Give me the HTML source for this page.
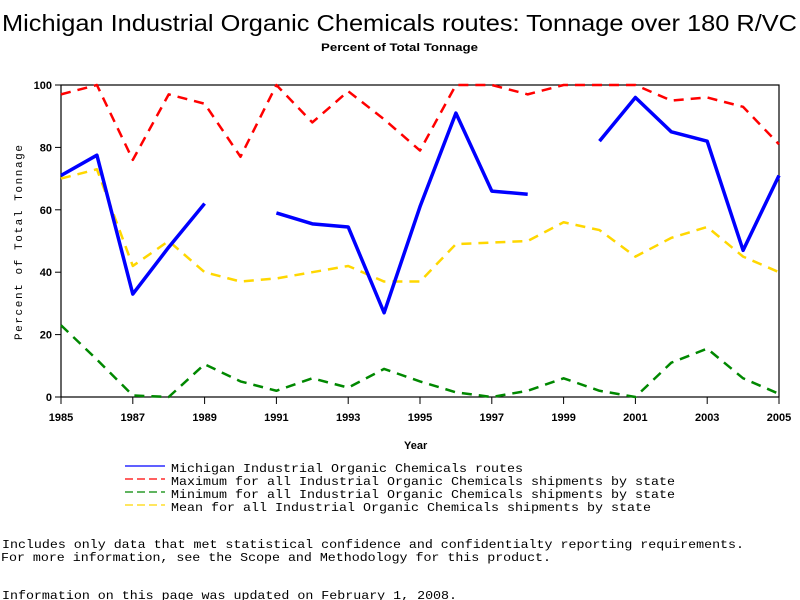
<!DOCTYPE html>
<html><head><meta charset="utf-8"><style>body{margin:0;background:#fff}svg{display:block}</style></head>
<body>
<svg id="chart" width="800" height="600" font-family="Liberation Sans, sans-serif">
<text x="2" y="31" font-size="23" textLength="795" lengthAdjust="spacingAndGlyphs">Michigan Industrial Organic Chemicals routes: Tonnage over 180 R/VC</text>
<text x="321" y="51" font-size="11" font-weight="bold" textLength="157" lengthAdjust="spacingAndGlyphs">Percent of Total Tonnage</text>
<rect x="61" y="85" width="718" height="312" fill="none" stroke="#000" stroke-width="1.2"/>
<g id="axes"></g>
<g id="series"></g>
<text x="404" y="449" font-size="11" font-weight="bold">Year</text>
<text transform="translate(22,340) rotate(-90)" font-size="11" font-family="Liberation Mono, monospace" textLength="195" lengthAdjust="spacing">Percent of Total Tonnage</text>
<g font-family="Liberation Mono, monospace" font-size="12">
<g><line x1="125" y1="466" x2="165" y2="466" stroke="#00f" stroke-width="1.2"/><text x="171" y="472" textLength="352" lengthAdjust="spacingAndGlyphs">Michigan Industrial Organic Chemicals routes</text></g>
<g><line x1="125" y1="479" x2="165" y2="479" stroke="#f00" stroke-width="1.2" stroke-dasharray="8,4"/><text x="171" y="485" textLength="504" lengthAdjust="spacingAndGlyphs">Maximum for all Industrial Organic Chemicals shipments by state</text></g>
<g><line x1="125" y1="492" x2="165" y2="492" stroke="#080" stroke-width="1.2" stroke-dasharray="8,4"/><text x="171" y="498" textLength="504" lengthAdjust="spacingAndGlyphs">Minimum for all Industrial Organic Chemicals shipments by state</text></g>
<g><line x1="125" y1="505" x2="165" y2="505" stroke="#ffd700" stroke-width="1.2" stroke-dasharray="8,4"/><text x="171" y="511" textLength="480" lengthAdjust="spacingAndGlyphs">Mean for all Industrial Organic Chemicals shipments by state</text></g>
<text x="2" y="548" textLength="742" lengthAdjust="spacingAndGlyphs">Includes only data that met statistical confidence and confidentialty reporting requirements.</text>
<text x="1" y="561" textLength="550" lengthAdjust="spacingAndGlyphs">For more information, see the Scope and Methodology for this product.</text>
<text x="2" y="599" textLength="455" lengthAdjust="spacingAndGlyphs">Information on this page was updated on February 1, 2008.</text>
</g>
</svg>
<script>
const years=[1985,1986,1987,1988,1989,1990,1991,1992,1993,1994,1995,1996,1997,1998,1999,2000,2001,2002,2003,2004,2005];
const michigan=[71,77.5,33,48,62,null,59,55.5,54.5,27,61,91,66,65,null,82,96,85,82,47,71];
const maximum=[97,100,76,97,94,77,100,88,98,89,79,100,100,97,100,100,100,95,96,93,81];
const minimum=[23,12,0.5,0,10.5,5,2,6,3,9,5,1.5,0,2,6,2,0,11,15.5,6,1];
const mean=[70,73,42,50,40,37,38,40,42,37,37,49,49.5,50,56,53.5,45,51,54.5,45,40];
const xTicks=[1985,1987,1989,1991,1993,1995,1997,1999,2001,2003,2005];
const yTicks=[0,20,40,60,80,100];
const NS="http://www.w3.org/2000/svg";
const X=v=>61+(v-1985)/20*718;
const Y=v=>397-v/100*312;
const axes=document.getElementById('axes'),ser=document.getElementById('series');
function mk(t,a,p){const e=document.createElementNS(NS,t);for(const k in a)e.setAttribute(k,a[k]);p.appendChild(e);return e;}
xTicks.forEach(t=>{
 const l=mk('line',{x1:X(t),x2:X(t),y1:397,y2:404,stroke:'#000'},axes);
 
 
 const tx=mk('text',{x:X(t),y:421,'font-size':11,'font-weight':'bold','text-anchor':'middle'},axes);
 tx.textContent=t;
 
 
});
yTicks.forEach(t=>{
 const l=mk('line',{x1:55,x2:61,y1:Y(t),y2:Y(t),stroke:'#000'},axes);
 
 
 const tx=mk('text',{x:52,y:Y(t)+4,'font-size':11,'font-weight':'bold','text-anchor':'end'},axes);
 tx.textContent=t;
 
 
});
function draw(vals,color,w,dash,name){
 let d='',pen=false;
 vals.forEach((v,i)=>{if(v==null){pen=false;return;}d+=(pen?'L':'M')+X(years[i])+','+Y(v);pen=true;});
 const p=mk('path',{d:d,fill:'none',stroke:color,'stroke-width':w,'stroke-linejoin':'round'},ser);
 if(dash)p.setAttribute('stroke-dasharray',dash);
 
 
}
draw(maximum,'#f00',2.5,'10,7','maximum-line');
draw(mean,'#ffd700',2.5,'10,7','mean-line');
draw(minimum,'#080',2.5,'10,7','minimum-line');
draw(michigan,'#00f',3.5,null,'michigan-line');
</script>
</body></html>
